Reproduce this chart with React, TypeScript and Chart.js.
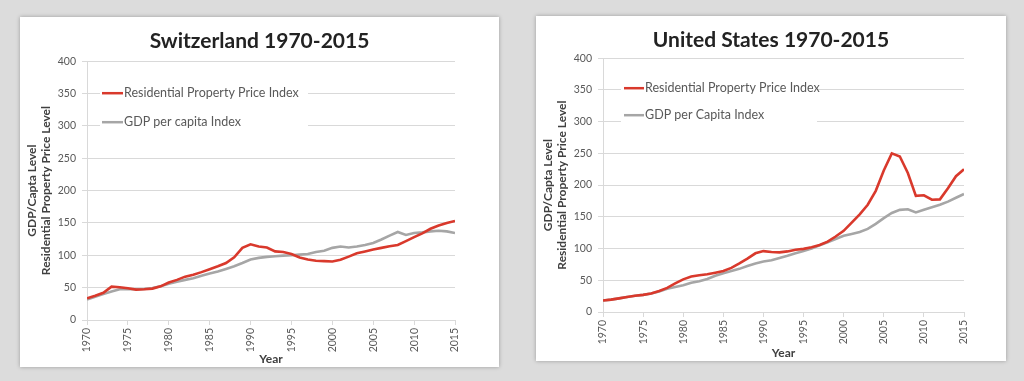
import React, { useEffect, useRef } from "react";
import { Chart, registerables } from "chart.js";

Chart.register(...registerables);

const years = [
  1970, 1971, 1972, 1973, 1974, 1975, 1976, 1977, 1978, 1979,
  1980, 1981, 1982, 1983, 1984, 1985, 1986, 1987, 1988, 1989,
  1990, 1991, 1992, 1993, 1994, 1995, 1996, 1997, 1998, 1999,
  2000, 2001, 2002, 2003, 2004, 2005, 2006, 2007, 2008, 2009,
  2010, 2011, 2012, 2013, 2014, 2015,
];

const chPropertyIndex = [
  33.5, 37.5, 42, 51.5, 50.5, 49, 47, 47.5, 48.5, 52,
  58, 62, 67, 70, 74, 78.5, 83, 88, 97, 111.5,
  117, 113.5, 112, 106, 105, 102, 96.5, 93.5, 91.5, 91,
  90.5, 93, 98, 103, 106, 109, 111.5, 114, 116, 122,
  128, 134, 141, 146, 150, 153,
];

const chGdpIndex = [
  31.5, 36, 40, 44, 47.5, 47.5, 47.5, 48, 49.5, 52,
  56, 59, 62, 64.5, 68.5, 72, 75, 79, 83, 88,
  93.5, 96, 97.5, 98.5, 99.5, 100, 101, 102, 105, 107,
  111.5, 113.5, 112, 113.5, 116, 119, 124.5, 130.5, 136, 131.5,
  134.5, 135.5, 137, 138, 137, 134.5,
];

const usPropertyIndex = [
  18, 19.5, 21.5, 23.5, 25.5, 27, 29, 33, 38, 45,
  51.5, 56, 58, 59.5, 62, 64.5, 69.5, 76.5, 84, 92.5,
  96, 94.5, 94, 95.5, 98, 99.5, 102, 105.5, 111, 119,
  128, 141, 154, 169, 191, 223, 250, 245, 219, 183,
  184, 177, 177.5, 195, 214, 225,
];

const usGdpIndex = [
  18, 19.5, 21.5, 23.5, 25.5, 27, 29, 32.5, 36.5, 39.5,
  42, 46, 48.5, 52, 57, 61, 64.5, 68, 72.5, 76.5,
  79.5, 81.5, 85, 88.5, 92.5, 96, 100, 105, 110, 115,
  120, 123, 126, 131, 139, 148, 156, 161, 162, 157,
  161, 165, 169, 174, 180, 186,
];

const yTitleLines = ["GDP/Capta Level", "Residential Property Price Level"];
const xTitle = "Year";
const propertyLabel = "Residential Property Price Index";
const chGdpLabel = "GDP per capita Index";
const usGdpLabel = "GDP per Capita Index";

const RED = "#d9392c";
const GRAY = "#a6a6a6";
const FONT = "Lato, 'Open Sans', sans-serif";

const boxLegend = {
  id: "boxLegend",
  beforeDatasetsDraw(chart: any, _args: any, opts: any) {
    const { ctx, chartArea } = chart;
    const ox = chartArea.left;
    const oy = chartArea.top;
    ctx.save();
    ctx.fillStyle = "#ffffff";
    ctx.fillRect(ox + opts.boxX, oy + opts.boxY, opts.boxW, opts.boxH);
    chart.data.datasets.forEach((ds: any, i: number) => {
      const yy = oy + opts.rowY + i * opts.rowGap;
      const x0 = ox + opts.lineX;
      ctx.strokeStyle = ds.borderColor;
      ctx.lineWidth = 2.5;
      ctx.beginPath();
      ctx.moveTo(x0, yy);
      ctx.lineTo(x0 + opts.lineLen, yy);
      ctx.stroke();
      ctx.fillStyle = "#595959";
      ctx.font = `${opts.fontSize}px ${FONT}`;
      ctx.textBaseline = "middle";
      ctx.textAlign = "left";
      ctx.fillText(ds.label, x0 + opts.lineLen + 1, yy);
    });
    ctx.restore();
  },
};

type PanelProps = {
  left: number;
  top: number;
  width: number;
  height: number;
  title: string;
  property: number[];
  gdp: number[];
  gdpLabel: string;
  yAxisWidth: number;
  xAxisHeight: number;
  padRight: number;
  titlePadTop: number;
  titlePadBottom: number;
  legend: any;
};

function Panel(p: PanelProps) {
  const ref = useRef<HTMLCanvasElement>(null);
  useEffect(() => {
    if (!ref.current) return;
    const chart = new Chart(ref.current, {
      type: "line",
      data: {
        datasets: [
          {
            label: propertyLabel,
            data: years.map((y, i) => ({ x: y, y: p.property[i] })),
            borderColor: RED,
            backgroundColor: RED,
            borderWidth: 2.6,
            pointRadius: 0,
            tension: 0,
          },
          {
            label: p.gdpLabel,
            data: years.map((y, i) => ({ x: y, y: p.gdp[i] })),
            borderColor: GRAY,
            backgroundColor: GRAY,
            borderWidth: 2.6,
            pointRadius: 0,
            tension: 0,
          },
        ],
      },
      options: {
        responsive: false,
        animation: false,
        layout: { padding: 0 },
        plugins: {
          legend: { display: false },
          tooltip: { enabled: false },
          title: {
            display: true,
            text: p.title,
            color: "#222222",
            font: { family: FONT, size: 21, weight: "bold" },
            padding: { top: p.titlePadTop, bottom: p.titlePadBottom },
          },
          boxLegend: p.legend,
        } as any,
        scales: {
          x: {
            type: "linear",
            min: 1970,
            max: 2015,
            afterFit: (s: any) => {
              s.height = p.xAxisHeight;
            },
            ticks: {
              stepSize: 5,
              minRotation: 90,
              maxRotation: 90,
              padding: 3,
              color: "#595959",
              font: { family: FONT, size: 10.5 },
              callback: (v: any) => String(v),
            },
            grid: { drawOnChartArea: false, drawTicks: true, tickLength: 5, color: "#d9d9d9" },
            border: { color: "#d9d9d9" },
            title: {
              display: true,
              text: xTitle,
              color: "#404040",
              font: { family: FONT, size: 12, weight: "bold" },
              padding: { top: 0, bottom: 1 },
            },
          },
          y: {
            min: 0,
            max: 400,
            afterFit: (s: any) => {
              s.width = p.yAxisWidth;
            },
            ticks: {
              stepSize: 50,
              padding: 6,
              color: "#595959",
              font: { family: FONT, size: 10.5 },
            },
            grid: { color: "#d9d9d9", tickLength: 5 },
            border: { color: "#d9d9d9" },
            title: {
              display: true,
              text: yTitleLines,
              color: "#404040",
              font: { family: FONT, size: 12, weight: "bold", lineHeight: 1.2 },
              padding: { top: 5, bottom: 0 },
            },
          },
          spacer: {
            type: "linear",
            position: "right",
            display: true,
            afterFit: (s: any) => {
              s.width = p.padRight;
            },
            ticks: { display: false },
            grid: { display: false },
            border: { display: false },
          },
        },
      },
      plugins: [boxLegend],
    } as any);
    return () => chart.destroy();
  }, []);
  return (
    <div
      style={{
        position: "absolute",
        left: p.left,
        top: p.top,
        width: p.width,
        height: p.height,
        background: "#ffffff",
        boxShadow: "0 0 4px rgba(0,0,0,0.3)",
      }}
    >
      <canvas ref={ref} width={p.width} height={p.height} style={{ display: "block" }} />
    </div>
  );
}

export default function App() {
  return (
    <div
      style={{
        position: "fixed",
        left: 0,
        top: 0,
        width: 1024,
        height: 381,
        background: "#dcdcdc",
        overflow: "hidden",
      }}
    >
      <Panel
        left={20}
        top={17}
        width={479}
        height={350}
        title="Switzerland 1970-2015"
        property={chPropertyIndex}
        gdp={chGdpIndex}
        gdpLabel={chGdpLabel}
        yAxisWidth={67}
        xAxisHeight={47}
        padRight={44}
        titlePadTop={12}
        titlePadBottom={7}
        legend={{ boxX: 13, boxY: 19, boxW: 208, boxH: 52, lineX: 15, lineLen: 21, rowY: 32, rowGap: 29, fontSize: 12.5 }}
      />
      <Panel
        left={536}
        top={16}
        width={470}
        height={345}
        title="United States 1970-2015"
        property={usPropertyIndex}
        gdp={usGdpIndex}
        gdpLabel={usGdpLabel}
        yAxisWidth={67}
        xAxisHeight={49}
        padRight={42}
        titlePadTop={12}
        titlePadBottom={5}
        legend={{ boxX: 18, boxY: 17, boxW: 196, boxH: 53, lineX: 21, lineLen: 20, rowY: 30, rowGap: 27, fontSize: 12.5 }}
      />
    </div>
  );
}
